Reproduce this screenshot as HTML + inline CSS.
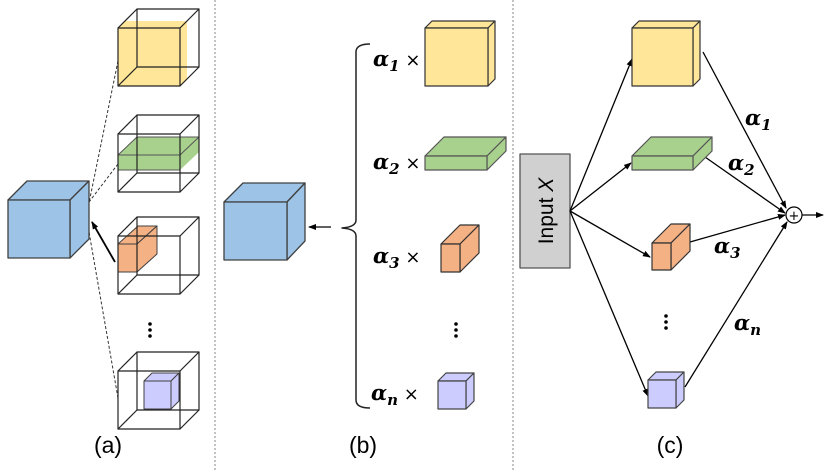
<!DOCTYPE html>
<html><head><meta charset="utf-8"><style>
html,body{margin:0;padding:0;background:#fff}
svg{display:block}
.a{font-family:"DejaVu Serif","Liberation Serif",serif;font-weight:bold;font-style:italic;font-size:21px}
.s{font-size:15px}
.x{font-family:"DejaVu Sans",sans-serif;font-size:18px}
.lb{font-family:"Liberation Sans",sans-serif;font-size:23px}
</style></head><body>
<svg width="831" height="471" viewBox="0 0 831 471" xmlns="http://www.w3.org/2000/svg">
<defs>
<marker id="ah" markerWidth="8" markerHeight="8" refX="7" refY="4" orient="auto" markerUnits="userSpaceOnUse"><path d="M0,1 L8,4 L0,7 Z" fill="#000"/></marker>
</defs>
<line x1="215" y1="0" x2="215" y2="471" stroke="#888" stroke-dasharray="2,2"/>
<line x1="513" y1="0" x2="513" y2="471" stroke="#888" stroke-dasharray="2,2"/>

<g stroke-linejoin="round">
<g fill="#9dc3e6" stroke="#404040" stroke-width="1.3">
<polygon points="8,200 27,181 89,181 70,200"/>
<polygon points="70,200 89,181 89,239 70,258"/>
<rect x="8" y="200" width="62" height="58"/>
</g>
<g stroke="#333" stroke-dasharray="3,2" fill="none">
<line x1="118" y1="61" x2="89" y2="203"/>
<line x1="118" y1="164" x2="89" y2="202"/>
<line x1="118" y1="398" x2="89" y2="232"/>
</g>
<line x1="115" y1="262" x2="92" y2="222" stroke="#000" stroke-width="1.8" marker-end="url(#ah)"/>

<polygon points="118,28 125,21 187,21 187,79 180,86 118,86" fill="#ffe699" stroke="none"/>
<polygon points="118,155 137,137 199,137 199,152 180,170 118,170" fill="#a9d18e" stroke="none"/>
<g stroke="#555" fill="none" stroke-width="1"><polyline points="118,155 137,137 199,137 180,155 118,155"/><line x1="180" y1="155" x2="180" y2="170"/><line x1="199" y1="137" x2="199" y2="152"/><line x1="118" y1="170" x2="180" y2="170"/></g>
<g fill="#f4b183" stroke="#404040" stroke-width="1">
<polygon points="118,244 138,226 157,226 137,244"/>
<polygon points="137,244 157,226 157,254 137,272"/>
<rect x="118" y="244" width="19" height="28"/>
</g>
<g fill="#ccccff" stroke="#404040" stroke-width="1">
<polygon points="144,381 152,373 179,373 171,381"/>
<polygon points="171,381 179,373 179,401 171,409"/>
<rect x="144" y="381" width="27" height="28"/>
</g>
<g fill="none" stroke="#222" stroke-width="1.2">
<g id="wf"><rect x="118" y="28" width="62" height="58"/><rect x="137" y="9" width="62" height="58"/><line x1="118" y1="28" x2="137" y2="9"/><line x1="180" y1="28" x2="199" y2="9"/><line x1="118" y1="86" x2="137" y2="67"/><line x1="180" y1="86" x2="199" y2="67"/></g>
<use href="#wf" y="106"/>
<use href="#wf" y="208"/>
<use href="#wf" y="343"/>
</g>
<g fill="#000"><circle cx="150" cy="324" r="1.8"/><circle cx="150" cy="330" r="1.8"/><circle cx="150" cy="336" r="1.8"/></g>
<text x="108" y="453" class="lb" text-anchor="middle">(a)</text>

<g fill="#9dc3e6" stroke="#404040" stroke-width="1.3">
<polygon points="224,202 243,183 305,183 287,202"/>
<polygon points="287,202 305,183 305,241 287,260"/>
<rect x="224" y="202" width="63" height="58"/>
</g>
<line x1="331" y1="227" x2="309" y2="227" stroke="#000" stroke-width="1.3" marker-end="url(#ah)"/>
<path d="M370,44 Q356,44 356,52 L356,220 Q356,227 342,228 Q356,229 356,236 L356,400 Q356,408 370,408" fill="none" stroke="#222" stroke-width="1.5"/>
<g fill="#ffe699" stroke="#333" stroke-width="1.2">
<polygon points="425,28 432,21 495,21 488,28"/><polygon points="488,28 495,21 495,79 488,86"/><rect x="425" y="28" width="63" height="58"/></g>
<g fill="#a9d18e" stroke="#555" stroke-width="1.2">
<polygon points="425,156 444,137 506,137 487,156"/><polygon points="487,156 506,137 506,151 487,170"/><rect x="425" y="156" width="62" height="14"/></g>
<g fill="#f4b183" stroke="#333" stroke-width="1.2">
<polygon points="441,244 460,225 479,225 460,244"/><polygon points="460,244 479,225 479,253 460,272"/><rect x="441" y="244" width="19" height="28"/></g>
<g fill="#ccccff" stroke="#444" stroke-width="1.2">
<polygon points="438,381 446,373 474,373 466,381"/><polygon points="466,381 474,373 474,401 466,409"/><rect x="438" y="381" width="28" height="28"/></g>
<g fill="#000"><circle cx="456" cy="324" r="1.8"/><circle cx="456" cy="330" r="1.8"/><circle cx="456" cy="336" r="1.8"/></g>
<text x="373" y="66" class="a">α<tspan class="s" dy="5">1</tspan><tspan class="x" dy="-5" font-weight="normal" font-style="normal"> ×</tspan></text>
<text x="373" y="169" class="a">α<tspan class="s" dy="5">2</tspan><tspan class="x" dy="-5" font-weight="normal" font-style="normal"> ×</tspan></text>
<text x="373" y="263" class="a">α<tspan class="s" dy="5">3</tspan><tspan class="x" dy="-5" font-weight="normal" font-style="normal"> ×</tspan></text>
<text x="371" y="400" class="a">α<tspan class="s" dy="5">n</tspan><tspan class="x" dy="-5" font-weight="normal" font-style="normal"> ×</tspan></text>
<text x="363" y="453" class="lb" text-anchor="middle">(b)</text>

<rect x="520" y="154" width="50" height="114" fill="#d0d0d0" stroke="#555" stroke-width="1.3"/>
<text transform="translate(553,211) rotate(-90)" text-anchor="middle" font-family="Liberation Sans,sans-serif" font-size="21">Input <tspan font-style="italic">X</tspan></text>
<g stroke="#000" stroke-width="1.3" fill="none" marker-end="url(#ah)">
<line x1="570" y1="211" x2="632" y2="59"/>
<line x1="570" y1="211" x2="631" y2="163"/>
<line x1="570" y1="211" x2="650" y2="257"/>
<line x1="570" y1="211" x2="648" y2="396"/>
<line x1="703" y1="52" x2="786" y2="208"/>
<line x1="705" y1="157" x2="785" y2="213"/>
<line x1="690" y1="242" x2="785" y2="215"/>
<line x1="685" y1="387" x2="787" y2="222"/>
<line x1="802" y1="215" x2="823" y2="215"/>
</g>
<circle cx="794" cy="215" r="8" fill="#fff" stroke="#000" stroke-width="1.2"/>
<text x="794" y="220" text-anchor="middle" font-family="DejaVu Sans,sans-serif" font-size="13">+</text>
<g fill="#ffe699" stroke="#333" stroke-width="1.2">
<polygon points="632,28 639,21 700,21 693,28"/><polygon points="693,28 700,21 700,79 693,86"/><rect x="632" y="28" width="61" height="58"/></g>
<g fill="#a9d18e" stroke="#555" stroke-width="1.2">
<polygon points="632,156 651,137 712,137 693,156"/><polygon points="693,156 712,137 712,151 693,170"/><rect x="632" y="156" width="61" height="14"/></g>
<g fill="#f4b183" stroke="#333" stroke-width="1.2">
<polygon points="652,243 671,224 690,224 671,243"/><polygon points="671,243 690,224 690,251 671,270"/><rect x="652" y="243" width="19" height="27"/></g>
<g fill="#ccccff" stroke="#444" stroke-width="1.2">
<polygon points="648,380 656,372 684,372 676,380"/><polygon points="676,380 684,372 684,400 676,408"/><rect x="648" y="380" width="28" height="28"/></g>
<g fill="#000"><circle cx="666" cy="316" r="1.8"/><circle cx="666" cy="322" r="1.8"/><circle cx="666" cy="328" r="1.8"/></g>
<text x="745" y="125" class="a">α<tspan class="s" dy="5">1</tspan></text>
<text x="728" y="170" class="a">α<tspan class="s" dy="5">2</tspan></text>
<text x="714" y="253" class="a">α<tspan class="s" dy="5">3</tspan></text>
<text x="734" y="330" class="a">α<tspan class="s" dy="5">n</tspan></text>
<text x="670" y="453" class="lb" text-anchor="middle">(c)</text>
</g>
</svg>
</body></html>
